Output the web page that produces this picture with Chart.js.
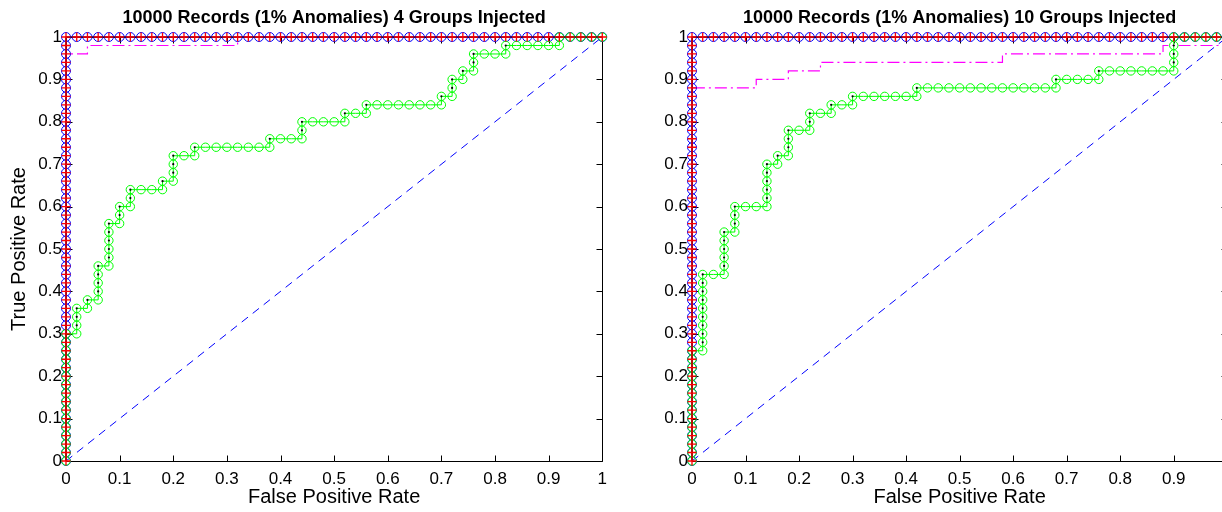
<!DOCTYPE html>
<html>
<head>
<meta charset="utf-8">
<title>ROC curves</title>
<script src="https://cdn.jsdelivr.net/npm/chart.js@4.4.1/dist/chart.umd.min.js"></script>
<style>
  html, body { margin: 0; padding: 0; background: #fff; overflow: hidden; width: 1222px; height: 512px; }
  .panel { position: absolute; top: 0; height: 512px; }
  #p1 { left: 0; width: 615px; }
  #p2 { left: 620px; width: 620px; }
</style>
</head>
<body>
<div class="panel" id="p1"><canvas id="c1"></canvas></div>
<div class="panel" id="p2"><canvas id="c2"></canvas></div>
<script>
// Axis ticks shared by both panels
const tickValues = [0, 0.1, 0.2, 0.3, 0.4, 0.5, 0.6, 0.7, 0.8, 0.9, 1];
const tickLabels = ['0', '0.1', '0.2', '0.3', '0.4', '0.5', '0.6', '0.7', '0.8', '0.9', '1'];

const panelTitles = [
  '10000 Records (1% Anomalies) 4 Groups Injected',
  '10000 Records (1% Anomalies) 10 Groups Injected'
];

// Perfect detector: every anomaly found before any false positive ([FPR, TPR])
const perfectFpr = [
  0, 0, 0, 0, 0, 0, 0, 0, 0, 0, 0, 0, 0, 0, 0, 0, 0, 0, 0, 0, 0, 0, 0, 0, 0, 0,
  0, 0, 0, 0, 0, 0, 0, 0, 0, 0, 0, 0, 0, 0, 0, 0, 0, 0, 0, 0, 0, 0, 0, 0, 0,
  0.02, 0.04, 0.06, 0.08, 0.10, 0.12, 0.14, 0.16, 0.18, 0.20, 0.22, 0.24, 0.26, 0.28, 0.30,
  0.32, 0.34, 0.36, 0.38, 0.40, 0.42, 0.44, 0.46, 0.48, 0.50, 0.52, 0.54, 0.56, 0.58, 0.60,
  0.62, 0.64, 0.66, 0.68, 0.70, 0.72, 0.74, 0.76, 0.78, 0.80, 0.82, 0.84, 0.86, 0.88, 0.90,
  0.92, 0.94, 0.96, 0.98, 1.00
];
const perfectTpr = [
  0.00, 0.02, 0.04, 0.06, 0.08, 0.10, 0.12, 0.14, 0.16, 0.18, 0.20, 0.22, 0.24, 0.26, 0.28,
  0.30, 0.32, 0.34, 0.36, 0.38, 0.40, 0.42, 0.44, 0.46, 0.48, 0.50, 0.52, 0.54, 0.56, 0.58,
  0.60, 0.62, 0.64, 0.66, 0.68, 0.70, 0.72, 0.74, 0.76, 0.78, 0.80, 0.82, 0.84, 0.86, 0.88,
  0.90, 0.92, 0.94, 0.96, 0.98, 1.00,
  1, 1, 1, 1, 1, 1, 1, 1, 1, 1, 1, 1, 1, 1, 1, 1, 1, 1, 1, 1, 1, 1, 1, 1, 1,
  1, 1, 1, 1, 1, 1, 1, 1, 1, 1, 1, 1, 1, 1, 1, 1, 1, 1, 1, 1, 1, 1, 1, 1, 1
];

// Green detector, 4 groups injected ([FPR, TPR])
const green4 = [
  [0, 0], [0, 0.02], [0, 0.04], [0, 0.06], [0, 0.08], [0, 0.10], [0, 0.12], [0, 0.14],
  [0, 0.16], [0, 0.18], [0, 0.20], [0, 0.22], [0, 0.24], [0, 0.26], [0, 0.28], [0, 0.30],
  [0.02, 0.30], [0.02, 0.32], [0.02, 0.34], [0.02, 0.36],
  [0.04, 0.36], [0.04, 0.38],
  [0.06, 0.38], [0.06, 0.40], [0.06, 0.42], [0.06, 0.44], [0.06, 0.46],
  [0.08, 0.46], [0.08, 0.48], [0.08, 0.50], [0.08, 0.52], [0.08, 0.54], [0.08, 0.56],
  [0.10, 0.56], [0.10, 0.58], [0.10, 0.60],
  [0.12, 0.60], [0.12, 0.62], [0.12, 0.64],
  [0.14, 0.64], [0.16, 0.64], [0.18, 0.64], [0.18, 0.66],
  [0.20, 0.66], [0.20, 0.68], [0.20, 0.70], [0.20, 0.72],
  [0.22, 0.72], [0.24, 0.72], [0.24, 0.74],
  [0.26, 0.74], [0.28, 0.74], [0.30, 0.74], [0.32, 0.74], [0.34, 0.74], [0.36, 0.74], [0.38, 0.74],
  [0.38, 0.76], [0.40, 0.76], [0.42, 0.76], [0.44, 0.76], [0.44, 0.78], [0.44, 0.80],
  [0.46, 0.80], [0.48, 0.80], [0.50, 0.80], [0.52, 0.80], [0.52, 0.82],
  [0.54, 0.82], [0.56, 0.82], [0.56, 0.84],
  [0.58, 0.84], [0.60, 0.84], [0.62, 0.84], [0.64, 0.84], [0.66, 0.84], [0.68, 0.84], [0.70, 0.84],
  [0.70, 0.86], [0.72, 0.86], [0.72, 0.88], [0.72, 0.90],
  [0.74, 0.90], [0.74, 0.92],
  [0.76, 0.92], [0.76, 0.94], [0.76, 0.96],
  [0.78, 0.96], [0.80, 0.96], [0.82, 0.96], [0.82, 0.98],
  [0.84, 0.98], [0.86, 0.98], [0.88, 0.98], [0.90, 0.98], [0.92, 0.98], [0.92, 1.00],
  [0.94, 1.00], [0.96, 1.00], [0.98, 1.00], [1.00, 1.00]
];

// Magenta detector, 4 groups injected
const magenta4 = [
  [0, 0], [0, 0.96], [0.04, 0.96], [0.04, 0.98], [0.32, 0.98], [0.32, 1.00], [1.00, 1.00]
];

// Green detector, 10 groups injected
const green10 = [
  [0, 0], [0, 0.02], [0, 0.04], [0, 0.06], [0, 0.08], [0, 0.10], [0, 0.12],
  [0, 0.14], [0, 0.16], [0, 0.18], [0, 0.20], [0, 0.22], [0, 0.24], [0, 0.26],
  [0.02, 0.26], [0.02, 0.28], [0.02, 0.30], [0.02, 0.32], [0.02, 0.34], [0.02, 0.36],
  [0.02, 0.38], [0.02, 0.40], [0.02, 0.42], [0.02, 0.44],
  [0.04, 0.44], [0.06, 0.44], [0.06, 0.46], [0.06, 0.48], [0.06, 0.50], [0.06, 0.52], [0.06, 0.54],
  [0.08, 0.54], [0.08, 0.56], [0.08, 0.58], [0.08, 0.60],
  [0.10, 0.60], [0.12, 0.60], [0.14, 0.60], [0.14, 0.62], [0.14, 0.64], [0.14, 0.66],
  [0.14, 0.68], [0.14, 0.70],
  [0.16, 0.70], [0.16, 0.72], [0.18, 0.72], [0.18, 0.74], [0.18, 0.76], [0.18, 0.78],
  [0.20, 0.78], [0.22, 0.78], [0.22, 0.80], [0.22, 0.82],
  [0.24, 0.82], [0.26, 0.82], [0.26, 0.84], [0.28, 0.84], [0.30, 0.84], [0.30, 0.86],
  [0.32, 0.86], [0.34, 0.86], [0.36, 0.86], [0.38, 0.86], [0.40, 0.86], [0.42, 0.86],
  [0.42, 0.88], [0.44, 0.88], [0.46, 0.88], [0.48, 0.88], [0.50, 0.88], [0.52, 0.88],
  [0.54, 0.88], [0.56, 0.88], [0.58, 0.88], [0.60, 0.88], [0.62, 0.88], [0.64, 0.88],
  [0.66, 0.88], [0.68, 0.88],
  [0.68, 0.90], [0.70, 0.90], [0.72, 0.90], [0.74, 0.90], [0.76, 0.90], [0.76, 0.92],
  [0.78, 0.92], [0.80, 0.92], [0.82, 0.92], [0.84, 0.92], [0.86, 0.92], [0.88, 0.92], [0.90, 0.92],
  [0.90, 0.94], [0.90, 0.96], [0.90, 0.98], [0.90, 1.00],
  [0.92, 1.00], [0.94, 1.00], [0.96, 1.00], [0.98, 1.00], [1.00, 1.00]
];

// Magenta detector, 10 groups injected
const magenta10 = [
  [0, 0], [0, 0.88], [0.12, 0.88], [0.12, 0.90], [0.18, 0.90], [0.18, 0.92],
  [0.24, 0.92], [0.24, 0.94], [0.58, 0.94], [0.58, 0.96], [0.88, 0.96], [0.88, 0.98],
  [1.00, 0.98], [1.00, 1.00]
];

// Random-guess reference line
const chanceLine = [[0, 0], [1, 1]];

const FONT = "'Liberation Sans', Arial, Helvetica, sans-serif";

function pairsToPoints(pairs) {
  return pairs.map(p => ({ x: p[0], y: p[1] }));
}
function columnsToPoints(xs, ys) {
  return xs.map((x, i) => ({ x: x, y: ys[i] }));
}

// Box around the plot area with inward-pointing tick marks on every side
const axisBox = {
  id: 'axisBox',
  beforeDatasetsDraw(chart) {
    const { ctx, chartArea: a, scales: { x, y } } = chart;
    const L = Math.round(a.left) + 0.5, R = Math.round(a.right) + 0.5;
    const T = Math.round(a.top) + 0.5, B = Math.round(a.bottom) + 0.5;
    const len = 6;
    ctx.save();
    ctx.strokeStyle = '#000';
    ctx.lineWidth = 1;
    ctx.beginPath();
    ctx.rect(L, T, R - L, B - T);
    x.ticks.forEach(t => {
      const px = Math.round(x.getPixelForValue(t.value)) + 0.5;
      ctx.moveTo(px, B); ctx.lineTo(px, B - len);
      ctx.moveTo(px, T); ctx.lineTo(px, T + len);
    });
    y.ticks.forEach(t => {
      const py = Math.round(y.getPixelForValue(t.value)) + 0.5;
      ctx.moveTo(L, py); ctx.lineTo(L + len, py);
      ctx.moveTo(R, py); ctx.lineTo(R - len, py);
    });
    ctx.stroke();
    ctx.restore();
  }
};

function linearAxis(extra) {
  return Object.assign({
    type: 'linear',
    min: 0,
    max: 1,
    grid: { display: false, drawTicks: false, tickLength: 0 },
    border: { display: false },
    afterBuildTicks: s => { s.ticks = tickValues.map(v => ({ value: v })); },
  }, extra);
}

// Dot only where the curve climbs vertically
function verticalStepDot(ctx) {
  const pts = ctx.dataset.data;
  const i = ctx.dataIndex;
  return i > 0 && pts[i - 1].x === pts[i].x ? 1.1 : 0;
}

function buildPanel(canvasId, opts) {
  const greenPoints = pairsToPoints(opts.green);
  const datasets = [
    { // red plus markers joined by a black line
      data: columnsToPoints(perfectFpr, perfectTpr),
      showLine: true, borderColor: '#000', borderWidth: 1.2,
      pointStyle: 'cross', pointRadius: 4.5, pointBorderColor: '#ff0000',
      pointBorderWidth: 1.3, pointBackgroundColor: 'transparent', clip: false
    },
    { // small black dots on the rising parts of the green curve
      data: greenPoints,
      showLine: false, pointStyle: 'circle', pointRadius: verticalStepDot,
      pointBorderWidth: 0, pointBackgroundColor: '#000', clip: false
    },
    { // green circles
      data: greenPoints,
      showLine: true, borderColor: '#00ff00', borderWidth: 1,
      pointStyle: 'circle', pointRadius: 4.2, pointBorderColor: '#00ff00',
      pointBorderWidth: 1, pointBackgroundColor: 'transparent', clip: false
    },
    { // blue circles
      data: columnsToPoints(perfectFpr, perfectTpr),
      showLine: true, borderColor: '#0000ff', borderWidth: 1,
      pointStyle: 'circle', pointRadius: 4.5, pointBorderColor: '#0000ff',
      pointBorderWidth: 1, pointBackgroundColor: 'transparent', clip: false
    },
    { // magenta dash-dot
      data: pairsToPoints(opts.magenta),
      showLine: true, borderColor: '#ff00ff', borderWidth: 1.2, pointRadius: 0,
      borderDash: [12, 4, 2, 4], clip: false
    },
    { // chance diagonal
      data: pairsToPoints(chanceLine),
      showLine: true, borderColor: '#0000ff', borderWidth: 1,
      borderDash: [8, 6], pointRadius: 0, clip: false
    }
  ];

  return new Chart(document.getElementById(canvasId), {
    type: 'scatter',
    data: { datasets: datasets },
    options: {
      responsive: true,
      maintainAspectRatio: false,
      animation: false,
      events: [],
      layout: { padding: { left: 0, right: opts.padRight, top: 0, bottom: 0 } },
      plugins: {
        legend: { display: false },
        tooltip: { enabled: false },
        title: {
          display: true,
          fullSize: false,
          text: opts.title,
          color: '#000',
          font: { family: FONT, size: 18, weight: 'bold' },
          padding: { top: 7, bottom: 8.4 }
        }
      },
      scales: {
        x: linearAxis({
          afterFit: s => { s.height = 51; },
          ticks: {
            autoSkip: false, maxRotation: 0, minRotation: 0, padding: 8, color: '#000',
            font: { family: FONT, size: 17 },
            callback: (v, i) => tickLabels[i]
          },
          title: {
            display: true, text: 'False Positive Rate', color: '#000',
            font: { family: FONT, size: 20 }, padding: { top: 0, bottom: 3 }
          }
        }),
        y: linearAxis({
          afterFit: s => { s.width = opts.yWidth; },
          ticks: {
            autoSkip: false, padding: 4, color: '#000',
            font: { family: FONT, size: 17 },
            callback: (v, i) => tickLabels[i]
          },
          title: {
            display: opts.yTitle, text: 'True Positive Rate', color: '#000',
            font: { family: FONT, size: 20 }, padding: { top: 7, bottom: 0 }
          }
        })
      }
    },
    plugins: [axisBox]
  });
}

buildPanel('c1', { title: panelTitles[0], green: green4, magenta: magenta4, padRight: 12, yWidth: 66, yTitle: true });
buildPanel('c2', { title: panelTitles[1], green: green10, magenta: magenta10, padRight: 11, yWidth: 72, yTitle: false });
</script>
</body>
</html>
